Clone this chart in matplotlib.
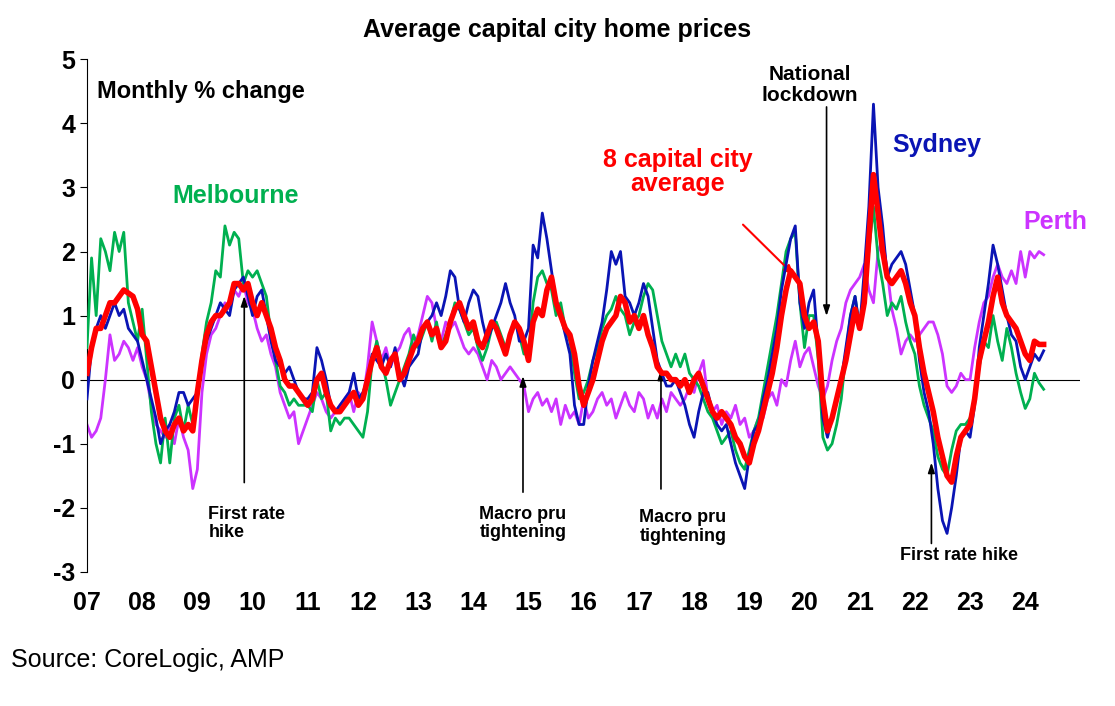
import matplotlib
matplotlib.use("Agg")
import matplotlib.pyplot as plt
import numpy as np

plt.rcParams["font.family"] = ["Liberation Sans", "DejaVu Sans"]
plt.rcParams["axes.unicode_minus"] = False

START_YEAR = 2007
avg = [0.1,0.5,0.8,0.8,1.0,1.2,1.2,1.3,1.4,1.35,1.3,1.1,
       0.7,0.6,0.2,-0.2,-0.6,-0.8,-0.9,-0.7,-0.6,-0.8,-0.7,-0.8,
       -0.2,0.3,0.7,0.9,1.0,1.0,1.1,1.2,1.5,1.5,1.4,1.5,
       1.2,1.0,1.2,1.0,0.8,0.5,0.3,0.0,-0.1,-0.1,-0.2,-0.3,
       -0.4,-0.3,0.0,0.1,-0.2,-0.4,-0.5,-0.5,-0.4,-0.3,-0.2,-0.4,
       -0.3,0.0,0.3,0.5,0.2,0.1,0.3,0.4,0.0,0.1,0.3,0.5,
       0.6,0.8,0.9,0.7,0.8,0.5,0.6,0.9,1.1,1.2,1.0,0.8,
       0.9,0.6,0.5,0.7,0.9,0.8,0.6,0.4,0.7,0.9,0.8,0.6,
       0.3,0.9,1.1,1.0,1.4,1.6,1.2,1.0,0.8,0.7,0.4,-0.1,
       -0.4,-0.2,0.0,0.3,0.6,0.8,0.9,1.0,1.3,1.2,0.9,1.0,
       0.8,1.0,0.7,0.5,0.2,0.1,0.1,0.0,0.0,-0.1,0.0,-0.2,
       0.0,0.1,-0.1,-0.3,-0.5,-0.6,-0.5,-0.6,-0.7,-0.9,-1.0,-1.2,
       -1.3,-1.0,-0.8,-0.5,-0.2,0.1,0.5,1.0,1.4,1.7,1.6,1.5,
       1.0,0.8,0.9,0.6,-0.3,-0.8,-0.6,-0.3,0.0,0.3,0.7,1.1,
       0.8,1.2,2.2,3.2,2.6,2.0,1.6,1.5,1.6,1.7,1.5,1.2,
       1.0,0.5,0.1,-0.2,-0.5,-0.9,-1.2,-1.5,-1.6,-1.2,-0.9,-0.8,
       -0.7,-0.3,0.3,0.6,0.9,1.3,1.6,1.2,1.0,0.9,0.8,0.6,
       0.4,0.3,0.6,0.55,0.55]
sydney = [-0.3,0.5,0.8,1.0,0.8,1.0,1.2,1.0,1.1,0.8,0.7,0.6,
          0.3,0.0,-0.3,-0.6,-1.0,-0.8,-0.7,-0.5,-0.2,-0.2,-0.4,-0.3,
          -0.2,0.3,0.6,0.8,1.0,1.2,1.1,1.0,1.4,1.5,1.6,1.3,
          1.0,1.3,1.4,1.0,0.6,0.3,0.2,0.1,0.2,0.0,-0.2,-0.3,
          -0.3,-0.2,0.5,0.3,0.0,-0.4,-0.5,-0.4,-0.3,-0.2,0.1,-0.3,
          -0.2,0.0,0.4,0.3,0.2,0.4,0.2,0.5,0.1,-0.1,0.2,0.3,
          0.4,0.8,0.9,1.0,1.2,1.0,1.3,1.7,1.6,1.1,0.9,1.2,
          1.4,1.3,0.9,0.6,0.8,1.0,1.2,1.5,1.2,1.0,0.6,0.6,
          0.8,2.1,1.9,2.6,2.2,1.7,1.2,1.0,0.7,0.4,-0.4,-0.7,
          -0.7,-0.1,0.3,0.6,0.9,1.4,2.0,1.8,2.0,1.3,1.2,1.0,
          1.2,1.5,1.3,0.8,0.3,0.1,-0.1,-0.1,0.0,-0.2,-0.4,-0.7,
          -0.9,-0.5,-0.2,-0.2,-0.5,-0.7,-0.8,-0.7,-1.0,-1.3,-1.5,-1.7,
          -1.2,-0.8,-0.7,-0.3,0.0,0.4,0.8,1.4,1.8,2.2,2.4,1.2,
          0.8,1.2,1.4,0.5,-0.6,-0.9,-0.6,-0.3,0.0,0.5,1.0,1.3,
          0.8,1.7,2.7,4.3,3.0,2.4,1.6,1.8,1.9,2.0,1.8,1.4,
          1.0,0.3,-0.2,-0.5,-1.0,-1.7,-2.2,-2.4,-2.0,-1.5,-0.9,-0.8,
          -0.9,-0.4,0.5,1.0,1.5,2.1,1.8,1.4,1.0,0.7,0.6,0.2,
          0.0,0.2,0.4,0.3,0.45]
melbourne = [0.5,1.9,1.0,2.2,2.0,1.7,2.3,2.0,2.3,1.2,0.9,0.6,
             1.1,0.3,-0.5,-1.0,-1.3,-0.6,-1.3,-0.6,-0.4,-0.8,-0.4,-0.7,
             -0.3,0.4,0.9,1.2,1.7,1.6,2.4,2.1,2.3,2.2,1.5,1.7,
             1.6,1.7,1.5,1.3,0.7,0.3,-0.1,-0.2,-0.4,-0.3,-0.4,-0.4,
             -0.4,-0.5,0.0,-0.3,-0.2,-0.8,-0.6,-0.7,-0.6,-0.6,-0.7,-0.8,
             -0.9,-0.5,0.3,0.6,0.3,0.0,-0.4,-0.2,0.0,0.2,0.4,0.7,
             0.5,0.7,0.9,0.6,0.9,0.5,0.7,0.9,1.2,1.1,0.9,0.7,
             0.8,0.5,0.3,0.5,0.8,0.9,0.7,0.5,0.7,0.9,0.7,0.4,
             0.4,1.2,1.6,1.7,1.5,1.4,1.0,1.2,0.8,0.6,0.1,-0.3,
             -0.2,0.0,0.3,0.5,0.8,1.0,1.1,1.3,1.1,1.0,0.7,0.9,
             1.0,1.3,1.5,1.4,1.0,0.6,0.4,0.2,0.4,0.2,0.4,0.1,
             0.0,-0.1,-0.3,-0.5,-0.6,-0.8,-1.0,-0.9,-0.8,-1.1,-1.3,-1.4,
             -1.1,-0.8,-0.6,-0.2,0.2,0.6,1.0,1.5,2.0,2.2,2.3,1.2,
             0.5,1.0,1.0,0.3,-0.9,-1.1,-1.0,-0.7,-0.3,0.4,1.0,1.3,
             0.8,1.4,2.0,2.7,1.9,1.5,1.0,1.2,1.1,1.3,0.9,0.6,
             0.4,-0.1,-0.4,-0.6,-0.8,-1.2,-1.4,-1.5,-1.1,-0.8,-0.7,-0.7,
             -0.6,-0.3,0.2,0.6,0.5,1.0,0.6,0.3,0.8,0.5,0.1,-0.2,
             -0.45,-0.3,0.1,-0.05,-0.15]
perth = [-0.7,-0.9,-0.8,-0.6,0.0,0.7,0.3,0.4,0.6,0.5,0.3,0.5,
         0.2,0.0,-0.4,-0.7,-0.8,-0.9,-0.7,-1.0,-0.6,-0.9,-1.1,-1.7,
         -1.4,-0.2,0.4,0.7,0.8,1.0,1.2,1.1,1.4,1.3,1.5,1.2,
         1.1,0.8,0.6,0.7,0.4,0.2,-0.2,-0.4,-0.6,-0.5,-1.0,-0.8,
         -0.6,-0.4,-0.2,-0.3,-0.5,-0.6,-0.5,-0.4,-0.3,-0.2,-0.5,-0.2,
         -0.3,0.2,0.9,0.6,0.3,0.5,0.2,0.4,0.5,0.7,0.8,0.5,
         0.7,1.0,1.3,1.2,0.8,0.6,0.9,0.8,0.9,0.7,0.5,0.4,
         0.5,0.4,0.2,0.0,0.3,0.2,0.0,0.1,0.2,0.1,0.0,-0.1,
         -0.5,-0.3,-0.2,-0.4,-0.3,-0.5,-0.3,-0.7,-0.4,-0.6,-0.5,-0.7,
         -0.3,-0.6,-0.5,-0.3,-0.2,-0.4,-0.3,-0.6,-0.4,-0.2,-0.4,-0.5,
         -0.2,-0.3,-0.6,-0.4,-0.6,-0.3,-0.5,-0.2,-0.3,-0.4,-0.3,-0.1,
         -0.2,0.1,0.3,-0.3,-0.5,-0.4,-0.7,-0.5,-0.6,-0.4,-0.7,-0.6,
         -0.9,-0.8,-0.6,-0.6,-0.3,-0.2,-0.4,0.0,-0.1,0.3,0.6,0.2,
         0.4,0.5,0.2,-0.1,-0.3,-0.1,0.3,0.6,0.8,1.2,1.4,1.5,
         1.6,1.8,1.4,1.2,2.0,2.2,1.7,1.1,0.8,0.4,0.6,0.7,
         0.6,0.7,0.8,0.9,0.9,0.7,0.4,-0.1,-0.2,-0.1,0.1,0.0,
         0.0,0.5,0.9,1.2,1.3,1.6,1.8,1.6,1.5,1.7,1.5,2.0,
         1.6,2.0,1.9,2.0,1.95]
years = list(range(2007, 2025))
year_labels = [f"{y % 100:02d}" for y in years]

def xs(series):
    return START_YEAR + np.arange(len(series)) / 12

fig = plt.figure(figsize=(11.15, 7.06), dpi=100)
ax = fig.add_axes([0.078, 0.19, 0.891, 0.726])

ax.plot(xs(perth), perth, color="#CC33FF", lw=2.0, zorder=2)
ax.plot(xs(melbourne), melbourne, color="#00B050", lw=2.0, zorder=3)
ax.plot(xs(sydney), sydney, color="#0A14B4", lw=2.0, zorder=4)
ax.plot(xs(avg), avg, color="#FF0000", lw=4.0, zorder=5)
ax.axhline(0, color="black", lw=0.8, zorder=1)

ax.set_xlim(2007, 2025)
ax.set_ylim(-3, 5)
ax.set_xticks(years)
ax.set_xticklabels(year_labels)
ax.set_yticks(range(-3, 6))
for s in ["top", "right", "bottom"]:
    ax.spines[s].set_visible(False)
ax.tick_params(axis="x", length=0, labelsize=18, pad=14)
ax.tick_params(axis="y", labelsize=18, direction="out", length=5)
for lab in ax.get_xticklabels() + ax.get_yticklabels():
    lab.set_fontweight("bold")

fig.suptitle("Average capital city home prices", x=0.5, y=0.975, fontsize=18, fontweight="bold")
ax.text(0.01, 0.96, "Monthly % change", transform=ax.transAxes, fontsize=17,
        fontweight="bold", va="top")

ax.text(2009.7, 2.75, "Melbourne", color="#00B050", fontsize=18, fontweight="bold", ha="center")
ax.text(2017.7, 2.95, "8 capital city\naverage", color="#FF0000", fontsize=18,
        fontweight="bold", ha="center", linespacing=1.0)
ax.text(2022.4, 3.55, "Sydney", color="#0A14B4", fontsize=18, fontweight="bold", ha="center")
ax.text(2024.55, 2.35, "Perth", color="#CC33FF", fontsize=18, fontweight="bold", ha="center")
ax.annotate("", xy=(2019.85, 1.6), xytext=(2018.85, 2.45),
            arrowprops=dict(arrowstyle="-|>,head_length=0.6,head_width=0.25",
                            color="#FF0000", lw=1.5))

arrow = dict(arrowstyle="-|>,head_length=0.6,head_width=0.2", color="black", lw=1.2)
notes = [
    ("First rate\nhike", 2009.85, -1.65, 1.35, 2009.2, -2.25, "left"),
    ("Macro pru\ntightening", 2014.9, -1.8, 0.1, 2014.9, -2.25, "center"),
    ("Macro pru\ntightening", 2017.4, -1.75, 0.2, 2017.8, -2.3, "center"),
]
for text, x, y0, y1, tx, ty, ha in notes:
    ax.annotate("", xy=(x, y1), xytext=(x, y0), arrowprops=arrow)
    ax.text(tx, ty, text, fontsize=13, fontweight="bold", ha=ha, va="center", linespacing=1.1)

ax.annotate("", xy=(2020.4, 0.95), xytext=(2020.4, 4.3), arrowprops=arrow)
ax.text(2020.1, 4.6, "National\nlockdown", fontsize=15, fontweight="bold", ha="center",
        va="center", linespacing=1.1)
ax.annotate("", xy=(2022.3, -1.25), xytext=(2022.3, -2.6), arrowprops=arrow)
ax.text(2022.8, -2.75, "First rate hike", fontsize=13, fontweight="bold", ha="center", va="center")

fig.text(0.01, 0.055, "Source: CoreLogic, AMP", fontsize=18)

fig.savefig("out.png", dpi=100, facecolor="white")
